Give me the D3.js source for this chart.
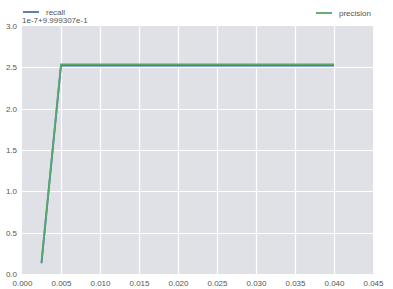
<!DOCTYPE html>
<html>
<head>
<meta charset="utf-8">
<script src="https://cdn.jsdelivr.net/npm/d3@7"></script>
<style>
  body { margin: 0; background: #fff; }
  svg text { font-family: "Liberation Sans", Arial, sans-serif; }
</style>
</head>
<body>
<section></section>
<script>

const w = 393;
const h = 289;
const m = { top: 26, right: 20, bottom: 15, left: 22 };

// data (y values shown relative to offset 1e-7+9.999307e-1)

const xs = [0.0025, 0.005, 0.0075, 0.01, 0.0125, 0.015, 0.0175, 0.02, 0.0225, 0.025, 0.0275, 0.03, 0.0325, 0.035, 0.0375, 0.04];
const recall = [0.13, 2.52, 2.52, 2.52, 2.52, 2.52, 2.52, 2.52, 2.52, 2.52, 2.52, 2.52, 2.52, 2.52, 2.52, 2.52];
const precision = [0.15, 2.535, 2.535, 2.535, 2.535, 2.535, 2.535, 2.535, 2.535, 2.535, 2.535, 2.535, 2.535, 2.535, 2.535, 2.535];

const xTicks = [0, 0.005, 0.01, 0.015, 0.02, 0.025, 0.03, 0.035, 0.04, 0.045];
const yTicks = [0, 0.5, 1.0, 1.5, 2.0, 2.5, 3.0];
const offsetLabel = '1e-7+9.999307e-1';

const series = [
    { name: 'recall', values: recall, color: '#4C72B0' },
    { name: 'precision', values: precision, color: '#55A868' }
];

// svg

const svg = d3.select('section').append('svg').attr('width', w).attr('height', h);

const xScale = d3.scaleLinear().domain([0, 0.045]).range([m.left, w - m.right]);
const yScale = d3.scaleLinear().domain([0, 3]).range([h - m.bottom, m.top]);

// background + grid

svg.append('rect')
    .attr('x', xScale(0)).attr('y', yScale(3))
    .attr('width', xScale(0.045) - xScale(0))
    .attr('height', yScale(0) - yScale(3))
    .attr('fill', '#E0E0E7');

svg.append('g').selectAll('line').data(xTicks.slice(1, -1)).enter().append('line')
    .attr('x1', d => Math.round(xScale(d)) + 0.5).attr('x2', d => Math.round(xScale(d)) + 0.5)
    .attr('y1', yScale(0)).attr('y2', yScale(3))
    .attr('stroke', '#fff').attr('stroke-width', 1.2);

svg.append('g').selectAll('line').data(yTicks.slice(1, -1)).enter().append('line')
    .attr('x1', xScale(0)).attr('x2', xScale(0.045))
    .attr('y1', d => Math.round(yScale(d)) + 0.5).attr('y2', d => Math.round(yScale(d)) + 0.5)
    .attr('stroke', '#fff').attr('stroke-width', 1.2);

// axes

const xAxis = d3.axisBottom(xScale).tickValues(xTicks).tickFormat(d3.format('.3f')).tickSize(0).tickPadding(6);
const yAxis = d3.axisLeft(yScale).tickValues(yTicks).tickFormat(d3.format('.1f')).tickSize(0).tickPadding(5);

const gx = svg.append('g').attr('transform', `translate(0,${h - m.bottom})`).call(xAxis);
const gy = svg.append('g').attr('transform', `translate(${m.left},0)`).call(yAxis);

[gx, gy].forEach(g => {
    g.select('.domain').remove();
    g.selectAll('text').attr('fill', '#555').style('font-size', '8px');
});

svg.append('text').attr('x', xScale(0)).attr('y', m.top - 3)
    .attr('fill', '#555').style('font-size', '8px').text(offsetLabel);

// lines

const line = d3.line().x((d, i) => xScale(xs[i])).y(d => yScale(d));

svg.append('g').selectAll('path').data(series).enter().append('path')
    .attr('d', d => line(d.values))
    .attr('fill', 'none')
    .attr('stroke', d => d.color)
    .attr('stroke-width', 1.8);

// legends

const legendPos = [{ x: 23, y: 12 }, { x: 316, y: 13 }];

series.forEach((s, i) => {
    const g = svg.append('g').attr('transform', `translate(${legendPos[i].x},${legendPos[i].y})`);
    g.append('line').attr('x1', 0).attr('x2', 16).attr('y1', 0).attr('y2', 0)
        .attr('stroke', s.color).attr('stroke-width', 1.8);
    g.append('text').attr('x', 23).attr('y', 3).attr('fill', '#555').style('font-size', '8px').text(s.name);
});

</script>
</body>
</html>
